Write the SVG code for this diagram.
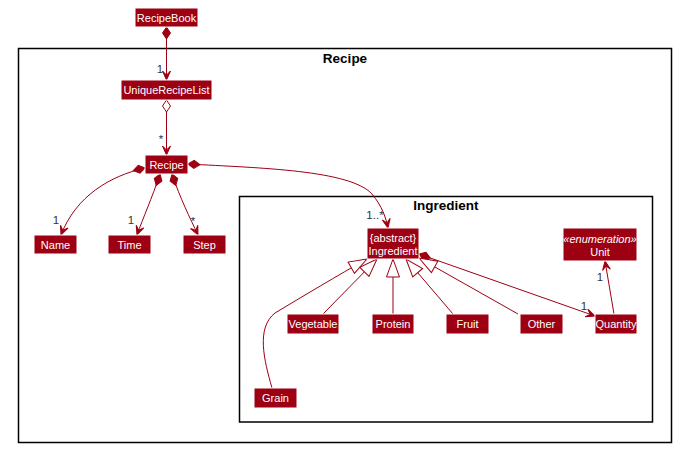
<svg xmlns="http://www.w3.org/2000/svg" width="681" height="452" viewBox="0 0 681 452">
  <style>
    .frame { fill: none; stroke: #000000; stroke-width: 1.5; }
    .ftitle { font-family: "Liberation Sans", Arial, sans-serif; font-size: 13.5px; font-weight: bold; fill: #000000; text-anchor: middle; }
    .cls { fill: #9D0012; stroke: #FFFFFF; stroke-width: 1; }
    .name { font-family: "Liberation Sans", Arial, sans-serif; font-size: 11px; fill: #FFFFFF; text-anchor: middle; }
    .stereo { font-style: italic; }
    .rel { fill: none; stroke: #9D0012; stroke-width: 1; }
    .mult { font-family: "Liberation Sans", Arial, sans-serif; font-size: 11.5px; fill: #333333; text-anchor: middle; }
  </style>
  <defs>
    <marker id="arrow" viewBox="-10 -5 11 10" refX="0" refY="0" markerWidth="11" markerHeight="10" markerUnits="userSpaceOnUse" orient="auto">
      <path d="M0,0 L-9,-4 L-5,0 L-9,4 Z" fill="#9D0012" stroke="#9D0012" stroke-width="1"/>
    </marker>
    <marker id="composition" viewBox="-1 -5 14 10" refX="0" refY="0" markerWidth="14" markerHeight="10" markerUnits="userSpaceOnUse" orient="auto">
      <path d="M0,0 L6,-4 L12,0 L6,4 Z" fill="#9D0012" stroke="#9D0012" stroke-width="1"/>
    </marker>
    <marker id="aggregation" viewBox="-1 -5 14 10" refX="0" refY="0" markerWidth="14" markerHeight="10" markerUnits="userSpaceOnUse" orient="auto">
      <path d="M0,0 L6,-4 L12,0 L6,4 Z" fill="#FFFFFF" stroke="#9D0012" stroke-width="1"/>
    </marker>
    <marker id="extends" viewBox="-20 -8 21 16" refX="0" refY="0" markerWidth="21" markerHeight="16" markerUnits="userSpaceOnUse" orient="auto">
      <path d="M0,0 L-18,-6.5 L-18,6.5 Z" fill="#FFFFFF" stroke="#9D0012" stroke-width="1"/>
    </marker>
  </defs>

  <!-- packages -->
  <g id="pkg-recipe">
    <rect class="frame" x="18.5" y="48.5" width="653" height="394"/>
    <text class="ftitle" x="345" y="63">Recipe</text>
  </g>
  <g id="pkg-ingredient">
    <rect class="frame" x="239.5" y="196.5" width="413" height="225.5"/>
    <text class="ftitle" x="446" y="210">Ingredient</text>
  </g>

  <!-- connectors -->
  <g id="connectors">
    <path class="rel" d="M166.5,27 L166.5,80" marker-start="url(#composition)" marker-end="url(#arrow)"/>
    <path class="rel" d="M166.5,100 L166.5,155" marker-start="url(#aggregation)" marker-end="url(#arrow)"/>
    <path class="rel" d="M145,168 C110,176 76,196 61,235" marker-start="url(#composition)" marker-end="url(#arrow)"/>
    <path class="rel" d="M160,174 C152,198 143,218 137,235" marker-start="url(#composition)" marker-end="url(#arrow)"/>
    <path class="rel" d="M172,174 C180,198 190,218 198,235" marker-start="url(#composition)" marker-end="url(#arrow)"/>
    <path class="rel" d="M188,164 C260,168 350,170 372,194 C382,206 386,218 388,228" marker-start="url(#composition)" marker-end="url(#arrow)"/>
    <path class="rel" d="M419,254 L595,316" marker-start="url(#composition)" marker-end="url(#arrow)"/>
    <path class="rel" d="M614,314 L605,261" marker-end="url(#arrow)"/>
    <path class="rel" d="M272,388 C264,360 256,328 275,313 C300,298 340,274 367,259" marker-end="url(#extends)"/>
    <path class="rel" d="M323,314 L377,259" marker-end="url(#extends)"/>
    <path class="rel" d="M393,314 L393,259" marker-end="url(#extends)"/>
    <path class="rel" d="M453,314 L406,259" marker-end="url(#extends)"/>
    <path class="rel" d="M518,314 L419,258" marker-end="url(#extends)"/>

    <text class="mult" x="160" y="73">1</text>
    <text class="mult" x="161" y="143">*</text>
    <text class="mult" x="56" y="224">1</text>
    <text class="mult" x="131" y="224">1</text>
    <text class="mult" x="193" y="225">*</text>
    <text class="mult" x="375" y="219">1..*</text>
    <text class="mult" x="584" y="310">1</text>
    <text class="mult" x="600" y="281">1</text>
  </g>

  <!-- classes -->
  <g id="RecipeBook">
    <rect class="cls" x="135" y="8" width="63" height="19"/>
    <text class="name" x="166.5" y="22">RecipeBook</text>
  </g>
  <g id="UniqueRecipeList">
    <rect class="cls" x="121" y="80" width="91" height="20"/>
    <text class="name" x="166.5" y="94">UniqueRecipeList</text>
  </g>
  <g id="Recipe">
    <rect class="cls" x="145" y="155" width="43" height="19"/>
    <text class="name" x="166.5" y="169">Recipe</text>
  </g>
  <g id="Name">
    <rect class="cls" x="34" y="235" width="43" height="19"/>
    <text class="name" x="55.5" y="249">Name</text>
  </g>
  <g id="Time">
    <rect class="cls" x="108" y="235" width="43" height="19"/>
    <text class="name" x="129.5" y="249">Time</text>
  </g>
  <g id="Step">
    <rect class="cls" x="183" y="235" width="43" height="19"/>
    <text class="name" x="204.5" y="249">Step</text>
  </g>
  <g id="Ingredient">
    <rect class="cls" x="367" y="228" width="52" height="31"/>
    <text class="name" x="393" y="242">{abstract}</text>
    <text class="name" x="393" y="255">Ingredient</text>
  </g>
  <g id="Unit">
    <rect class="cls" x="563" y="228" width="74" height="33"/>
    <text class="name stereo" x="600" y="243">«enumeration»</text>
    <text class="name" x="600" y="256">Unit</text>
  </g>
  <g id="Vegetable">
    <rect class="cls" x="287" y="314" width="52" height="20"/>
    <text class="name" x="313" y="328">Vegetable</text>
  </g>
  <g id="Protein">
    <rect class="cls" x="372" y="314" width="42" height="20"/>
    <text class="name" x="393" y="328">Protein</text>
  </g>
  <g id="Fruit">
    <rect class="cls" x="446" y="314" width="43" height="20"/>
    <text class="name" x="467.5" y="328">Fruit</text>
  </g>
  <g id="Other">
    <rect class="cls" x="520" y="314" width="43" height="20"/>
    <text class="name" x="541.5" y="328">Other</text>
  </g>
  <g id="Quantity">
    <rect class="cls" x="595" y="314" width="42" height="20"/>
    <text class="name" x="616" y="328">Quantity</text>
  </g>
  <g id="Grain">
    <rect class="cls" x="254" y="388" width="43" height="20"/>
    <text class="name" x="275.5" y="402">Grain</text>
  </g>
</svg>
